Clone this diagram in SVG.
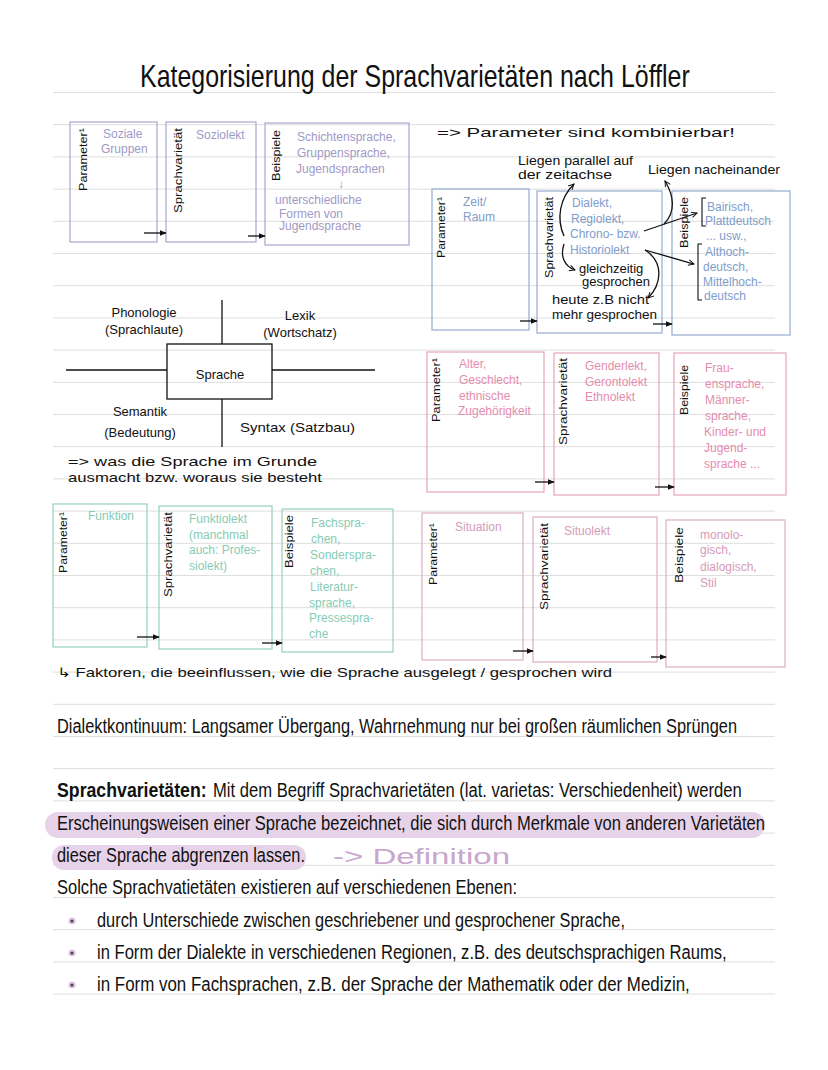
<svg xmlns="http://www.w3.org/2000/svg" width="828" height="1070" viewBox="0 0 828 1070">
<defs>
<marker id="ah" viewBox="0 0 10 10" refX="9" refY="5" markerWidth="7" markerHeight="7" orient="auto" markerUnits="userSpaceOnUse">
<path d="M0,1 L10,5 L0,9 z" fill="#111"/>
</marker>
<marker id="av" viewBox="0 0 10 10" refX="9" refY="5" markerWidth="7" markerHeight="7" orient="auto" markerUnits="userSpaceOnUse">
<path d="M1,1 L9,5 L1,9" fill="none" stroke="#111" stroke-width="1.4"/>
</marker>
<style>
.rule{stroke:#dedede;stroke-width:1}
.box{fill:none;stroke-width:1.2}
.lav{stroke:#aaa7cc}
.blu{stroke:#94abd0}
.pnk{stroke:#e6a3bb}
.tea{stroke:#95d2bd}
.mau{stroke:#dcadc4}
.t{font-family:"Liberation Sans","DejaVu Sans",sans-serif;font-size:12px}
.rot{font-family:"Liberation Sans","DejaVu Sans",sans-serif;font-size:11.5px;fill:#111}
.tl{fill:#9e9ac6}
.tb{fill:#809dcb}
.tp{fill:#e58cae}
.tt{fill:#86ccb4}
.tm{fill:#d69bb8}
.hand{font-family:"Liberation Sans","DejaVu Sans",sans-serif;font-size:13px;fill:#111}
.big{font-family:"Liberation Sans","DejaVu Sans",sans-serif;font-size:20px;fill:#111}
.con{fill:none;stroke:#111;stroke-width:1.3}
.ln{stroke:#111;stroke-width:1.3;fill:none}
</style>
</defs>
<rect width="828" height="1070" fill="#fff"/>
<g id="rules">
<line class="rule" x1="53" x2="775" y1="92.5" y2="92.5"/>
<line class="rule" x1="53" x2="775" y1="124.7" y2="124.7"/>
<line class="rule" x1="53" x2="775" y1="156.9" y2="156.9"/>
<line class="rule" x1="53" x2="775" y1="189.1" y2="189.1"/>
<line class="rule" x1="53" x2="775" y1="221.3" y2="221.3"/>
<line class="rule" x1="53" x2="775" y1="253.5" y2="253.5"/>
<line class="rule" x1="53" x2="775" y1="285.7" y2="285.7"/>
<line class="rule" x1="53" x2="775" y1="317.9" y2="317.9"/>
<line class="rule" x1="53" x2="775" y1="350.1" y2="350.1"/>
<line class="rule" x1="53" x2="775" y1="382.3" y2="382.3"/>
<line class="rule" x1="53" x2="775" y1="414.5" y2="414.5"/>
<line class="rule" x1="53" x2="775" y1="446.7" y2="446.7"/>
<line class="rule" x1="53" x2="775" y1="478.9" y2="478.9"/>
<line class="rule" x1="53" x2="775" y1="511.1" y2="511.1"/>
<line class="rule" x1="53" x2="775" y1="543.3" y2="543.3"/>
<line class="rule" x1="53" x2="775" y1="575.5" y2="575.5"/>
<line class="rule" x1="53" x2="775" y1="607.7" y2="607.7"/>
<line class="rule" x1="53" x2="775" y1="639.9" y2="639.9"/>
<line class="rule" x1="53" x2="775" y1="672.1" y2="672.1"/>
<line class="rule" x1="53" x2="775" y1="704.3" y2="704.3"/>
<line class="rule" x1="53" x2="775" y1="736.5" y2="736.5"/>
<line class="rule" x1="53" x2="775" y1="768.7" y2="768.7"/>
<line class="rule" x1="53" x2="775" y1="800.9" y2="800.9"/>
<line class="rule" x1="53" x2="775" y1="833.1" y2="833.1"/>
<line class="rule" x1="53" x2="775" y1="865.3" y2="865.3"/>
<line class="rule" x1="53" x2="775" y1="897.5" y2="897.5"/>
<line class="rule" x1="53" x2="775" y1="929.7" y2="929.7"/>
<line class="rule" x1="53" x2="775" y1="961.9" y2="961.9"/>
<line class="rule" x1="53" x2="775" y1="994.1" y2="994.1"/>
</g>

<g id="title">
<text transform="translate(140,87) scale(0.75,1)" x="0" y="0" font-family="Liberation Sans, sans-serif" font-size="32" fill="#111" textLength="733" lengthAdjust="spacingAndGlyphs">Kategorisierung der Sprachvarietäten nach Löffler</text>
</g>

<g id="soz-param">
<rect class="box lav" x="70" y="122" width="87" height="120"/>
<text class="rot" transform="translate(87,191) rotate(-90)" textLength="63" lengthAdjust="spacingAndGlyphs">Parameter¹</text>
<text class="t tl" x="103" y="138">Soziale</text>
<text class="t tl" x="101" y="153">Gruppen</text>
</g>
<g id="soz-var">
<rect class="box lav" x="166" y="122" width="90" height="120"/>
<text class="rot" transform="translate(182,213) rotate(-90)" textLength="85" lengthAdjust="spacingAndGlyphs">Sprachvarietät</text>
<text class="t tl" x="196" y="139">Soziolekt</text>
</g>
<g id="soz-bsp">
<rect class="box lav" x="265" y="123" width="144" height="122"/>
<text class="rot" transform="translate(280,181) rotate(-90)" textLength="51" lengthAdjust="spacingAndGlyphs">Beispiele</text>
<text class="t tl" x="297" y="141">Schichtensprache,</text>
<text class="t tl" x="297" y="157">Gruppensprache,</text>
<text class="t tl" x="296" y="173">Jugendsprachen</text>
<text class="t tl" x="338" y="188">↓</text>
<text class="t tl" x="275" y="204">unterschiedliche</text>
<text class="t tl" x="279" y="218">Formen von</text>
<text class="t tl" x="279" y="230">Jugendsprache</text>
</g>

<g id="note-kombi">
<text class="hand" x="437" y="137" font-size="17" textLength="298" lengthAdjust="spacingAndGlyphs">=&gt; Parameter sind kombinierbar!</text>
<text class="hand" x="518" y="165" textLength="115" lengthAdjust="spacingAndGlyphs">Liegen parallel auf</text>
<text class="hand" x="518" y="179" textLength="94" lengthAdjust="spacingAndGlyphs">der zeitachse</text>
<text class="hand" x="648" y="174" textLength="132" lengthAdjust="spacingAndGlyphs">Liegen nacheinander</text>
</g>
<g id="zeit-param">
<rect class="box blu" x="432" y="189" width="97" height="141"/>
<text class="rot" transform="translate(445,258) rotate(-90)" textLength="61" lengthAdjust="spacingAndGlyphs">Parameter¹</text>
<text class="t tb" x="463" y="206">Zeit/</text>
<text class="t tb" x="463" y="221">Raum</text>
</g>
<g id="zeit-var">
<rect class="box blu" x="537" y="191" width="125" height="142"/>
<text class="rot" transform="translate(553,278) rotate(-90)" textLength="81" lengthAdjust="spacingAndGlyphs">Sprachvarietät</text>
<text class="t tb" x="572" y="207">Dialekt,</text>
<text class="t tb" x="571" y="223">Regiolekt,</text>
<text class="t tb" x="570" y="238">Chrono- bzw.</text>
<text class="t tb" x="570" y="254">Historiolekt</text>
<text class="hand" x="579" y="273" font-size="12">gleichzeitig</text>
<text class="hand" x="582" y="286" font-size="12">gesprochen</text>
<text class="hand" x="552" y="304" font-size="10.5" textLength="97" lengthAdjust="spacingAndGlyphs">heute z.B nicht</text>
<text class="hand" x="552" y="319" font-size="10.5" textLength="105" lengthAdjust="spacingAndGlyphs">mehr gesprochen</text>
</g>
<g id="zeit-bsp">
<rect class="box blu" x="672" y="191" width="118" height="144"/>
<text class="rot" transform="translate(688,248) rotate(-90)" textLength="51" lengthAdjust="spacingAndGlyphs">Beispiele</text>
<path d="M706,198 H702 V226 H706" fill="none" stroke="#111" stroke-width="1.1"/>
<path d="M702,244 H698 V300 H702" fill="none" stroke="#111" stroke-width="1.1"/>
<text class="t tb" x="707" y="211">Bairisch,</text>
<text class="t tb" x="705" y="225">Plattdeutsch</text>
<text class="t tb" x="706" y="240">... usw.,</text>
<text class="t tb" x="705" y="256">Althoch-</text>
<text class="t tb" x="703" y="271">deutsch,</text>
<text class="t tb" x="703" y="286">Mittelhoch-</text>
<text class="t tb" x="704" y="300">deutsch</text>
</g>

<g id="sprache">
<rect x="167" y="344" width="105" height="55" fill="none" stroke="#111" stroke-width="1.3"/>
<text class="hand" x="220" y="379" text-anchor="middle" font-size="14">Sprache</text>
<text class="hand" x="144" y="317" text-anchor="middle">Phonologie</text>
<text class="hand" x="144" y="334" text-anchor="middle">(Sprachlaute)</text>
<text class="hand" x="300" y="320" text-anchor="middle">Lexik</text>
<text class="hand" x="300" y="337" text-anchor="middle">(Wortschatz)</text>
<text class="hand" x="140" y="416" text-anchor="middle">Semantik</text>
<text class="hand" x="140" y="437" text-anchor="middle">(Bedeutung)</text>
<text class="hand" x="240" y="432" textLength="115" lengthAdjust="spacingAndGlyphs">Syntax (Satzbau)</text>
<text class="hand" x="68" y="466" textLength="249" lengthAdjust="spacingAndGlyphs">=&gt; was die Sprache im Grunde</text>
<text class="hand" x="68" y="482" textLength="254" lengthAdjust="spacingAndGlyphs">ausmacht bzw. woraus sie besteht</text>
</g>

<g id="alter-param">
<rect class="box pnk" x="427" y="352" width="117" height="140"/>
<text class="rot" transform="translate(440,422) rotate(-90)" textLength="64" lengthAdjust="spacingAndGlyphs">Parameter¹</text>
<text class="t tp" x="459" y="368">Alter,</text>
<text class="t tp" x="459" y="384">Geschlecht,</text>
<text class="t tp" x="459" y="400">ethnische</text>
<text class="t tp" x="458" y="415">Zugehörigkeit</text>
</g>
<g id="alter-var">
<rect class="box pnk" x="554" y="353" width="105" height="142"/>
<text class="rot" transform="translate(567,445) rotate(-90)" textLength="87" lengthAdjust="spacingAndGlyphs">Sprachvarietät</text>
<text class="t tp" x="585" y="370">Genderlekt,</text>
<text class="t tp" x="585" y="386">Gerontolekt</text>
<text class="t tp" x="585" y="401">Ethnolekt</text>
</g>
<g id="alter-bsp">
<rect class="box pnk" x="674" y="353" width="112" height="142"/>
<text class="rot" transform="translate(688,415) rotate(-90)" textLength="50" lengthAdjust="spacingAndGlyphs">Beispiele</text>
<text class="t tp" x="705" y="372">Frau-</text>
<text class="t tp" x="705" y="388">ensprache,</text>
<text class="t tp" x="705" y="404">Männer-</text>
<text class="t tp" x="705" y="420">sprache,</text>
<text class="t tp" x="704" y="436">Kinder- und</text>
<text class="t tp" x="704" y="452">Jugend-</text>
<text class="t tp" x="704" y="468">sprache ...</text>
</g>

<g id="funk-param">
<rect class="box tea" x="53" y="504" width="94" height="143"/>
<text class="rot" transform="translate(67,573) rotate(-90)" textLength="61" lengthAdjust="spacingAndGlyphs">Parameter¹</text>
<text class="t tt" x="88" y="520" font-size="11">Funktion</text>
</g>
<g id="funk-var">
<rect class="box tea" x="159" y="506" width="113" height="143"/>
<text class="rot" transform="translate(172,597) rotate(-90)" textLength="85" lengthAdjust="spacingAndGlyphs">Sprachvarietät</text>
<text class="t tt" x="189" y="523">Funktiolekt</text>
<text class="t tt" x="189" y="539">(manchmal</text>
<text class="t tt" x="189" y="554">auch: Profes-</text>
<text class="t tt" x="189" y="570">siolekt)</text>
</g>
<g id="funk-bsp">
<rect class="box tea" x="282" y="509" width="111" height="143"/>
<text class="rot" transform="translate(293,568) rotate(-90)" textLength="53" lengthAdjust="spacingAndGlyphs">Beispiele</text>
<text class="t tt" x="311" y="527">Fachspra-</text>
<text class="t tt" x="311" y="543">chen,</text>
<text class="t tt" x="310" y="559">Sonderspra-</text>
<text class="t tt" x="310" y="575">chen,</text>
<text class="t tt" x="310" y="591">Literatur-</text>
<text class="t tt" x="309" y="607">sprache,</text>
<text class="t tt" x="309" y="622">Pressespra-</text>
<text class="t tt" x="309" y="638">che</text>
</g>

<g id="sit-param">
<rect class="box mau" x="422" y="513" width="101" height="147"/>
<text class="rot" transform="translate(437,585) rotate(-90)" textLength="62" lengthAdjust="spacingAndGlyphs">Parameter¹</text>
<text class="t tm" x="455" y="531">Situation</text>
</g>
<g id="sit-var">
<rect class="box mau" x="533" y="517" width="124" height="145"/>
<text class="rot" transform="translate(548,610) rotate(-90)" textLength="87" lengthAdjust="spacingAndGlyphs">Sprachvarietät</text>
<text class="t tm" x="564" y="535">Situolekt</text>
</g>
<g id="sit-bsp">
<rect class="box mau" x="666" y="520" width="119" height="147"/>
<text class="rot" transform="translate(683,583) rotate(-90)" textLength="56" lengthAdjust="spacingAndGlyphs">Beispiele</text>
<text class="t tm" x="700" y="539">monolo-</text>
<text class="t tm" x="700" y="554">gisch,</text>
<text class="t tm" x="700" y="571">dialogisch,</text>
<text class="t tm" x="700" y="587">Stil</text>
</g>

<g id="faktoren">
<text class="hand" x="57" y="677" textLength="555" lengthAdjust="spacingAndGlyphs">↳ Faktoren, die beeinflussen, wie die Sprache ausgelegt / gesprochen wird</text>
</g>

<g id="connectors">
<line class="ln" x1="222" y1="300" x2="222" y2="344"/>
<line class="ln" x1="222" y1="399" x2="222" y2="447"/>
<line class="ln" x1="66" y1="370" x2="167" y2="370"/>
<line class="ln" x1="272" y1="370" x2="375" y2="370"/>
<line class="con" x1="144" y1="233" x2="166" y2="233" marker-end="url(#ah)"/>
<line class="con" x1="248" y1="236" x2="265" y2="236" marker-end="url(#ah)"/>
<line class="con" x1="520" y1="321" x2="537" y2="321" marker-end="url(#ah)"/>
<line class="con" x1="653" y1="324" x2="672" y2="324" marker-end="url(#ah)"/>
<line class="con" x1="535" y1="482" x2="554" y2="482" marker-end="url(#ah)"/>
<line class="con" x1="655" y1="487" x2="674" y2="487" marker-end="url(#ah)"/>
<line class="con" x1="137" y1="637" x2="159" y2="637" marker-end="url(#ah)"/>
<line class="con" x1="262" y1="643" x2="282" y2="643" marker-end="url(#ah)"/>
<line class="con" x1="513" y1="651" x2="533" y2="651" marker-end="url(#ah)"/>
<line class="con" x1="651" y1="657" x2="666" y2="657" marker-end="url(#ah)"/>
<path class="con" stroke-width="1" d="M564,236 C556,218 560,198 574,184" marker-end="url(#av)"/>
<path class="con" stroke-width="1" d="M564,244 C560,256 564,266 575,270" marker-end="url(#av)"/>
<path class="con" stroke-width="1" d="M645,250 C664,262 662,284 648,298" marker-end="url(#av)"/>
<path class="con" stroke-width="1" d="M644,231 L697,213" marker-end="url(#av)"/>
<path class="con" stroke-width="1" d="M645,250 L694,264" marker-end="url(#av)"/>
<path class="con" stroke-width="1" d="M664,224 C676,212 674,196 665,181" marker-end="url(#av)"/>
</g>

<g id="text-block">
<text class="big" transform="translate(57,733) scale(0.8,1)" x="0" y="0" textLength="850" lengthAdjust="spacingAndGlyphs">Dialektkontinuum: Langsamer Übergang, Wahrnehmung nur bei großen räumlichen Sprüngen</text>
<rect x="45" y="812" width="720" height="26" rx="13" fill="#e7d3e9"/>
<rect x="52" y="845" width="254" height="25" rx="12" fill="#e7d3e9"/>
<text class="big" transform="translate(57,797) scale(0.8,1)" x="0" y="0" font-weight="bold" textLength="187" lengthAdjust="spacingAndGlyphs">Sprachvarietäten:</text>
<text class="big" transform="translate(213,797) scale(0.8,1)" x="0" y="0" textLength="661" lengthAdjust="spacingAndGlyphs">Mit dem Begriff Sprachvarietäten (lat. varietas: Verschiedenheit) werden</text>
<text class="big" transform="translate(57,830) scale(0.8,1)" x="0" y="0" textLength="885" lengthAdjust="spacingAndGlyphs">Erscheinungsweisen einer Sprache bezeichnet, die sich durch Merkmale von anderen Varietäten</text>
<text class="big" transform="translate(57,862) scale(0.8,1)" x="0" y="0" textLength="310" lengthAdjust="spacingAndGlyphs">dieser Sprache abgrenzen lassen.</text>
<text x="333" y="864" font-family="Liberation Sans, sans-serif" font-size="22" fill="#c9a6cd" textLength="177" lengthAdjust="spacingAndGlyphs">-&gt; Definition</text>
<text class="big" transform="translate(57,894) scale(0.8,1)" x="0" y="0" textLength="575" lengthAdjust="spacingAndGlyphs">Solche Sprachvatietäten existieren auf verschiedenen Ebenen:</text>
<circle cx="72" cy="921" r="3.5" fill="#ddc4e0"/>
<circle cx="72" cy="921" r="1.6" fill="#444"/>
<circle cx="72" cy="953" r="3.5" fill="#ddc4e0"/>
<circle cx="72" cy="953" r="1.6" fill="#444"/>
<circle cx="72" cy="985" r="3.5" fill="#ddc4e0"/>
<circle cx="72" cy="985" r="1.6" fill="#444"/>
<text class="big" transform="translate(97,927) scale(0.8,1)" x="0" y="0" textLength="660" lengthAdjust="spacingAndGlyphs">durch Unterschiede zwischen geschriebener und gesprochener Sprache,</text>
<text class="big" transform="translate(97,959) scale(0.8,1)" x="0" y="0" textLength="787" lengthAdjust="spacingAndGlyphs">in Form der Dialekte in verschiedenen Regionen, z.B. des deutschsprachigen Raums,</text>
<text class="big" transform="translate(97,991) scale(0.8,1)" x="0" y="0" textLength="741" lengthAdjust="spacingAndGlyphs">in Form von Fachsprachen, z.B. der Sprache der Mathematik oder der Medizin,</text>
</g>
</svg>
